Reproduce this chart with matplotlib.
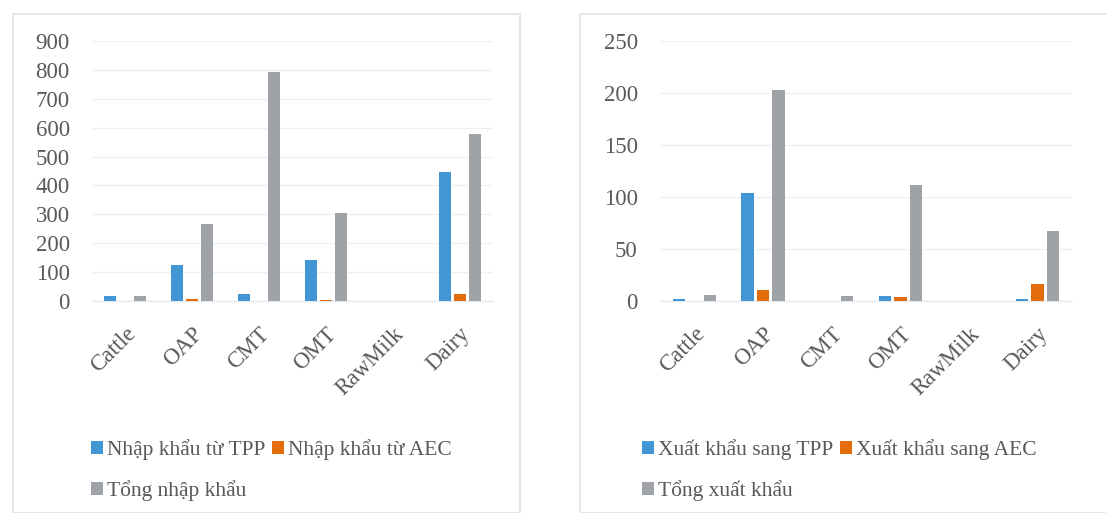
import matplotlib
matplotlib.use('Agg')
import matplotlib.pyplot as plt
from matplotlib.patches import Rectangle
import numpy as np

plt.rcParams['font.family'] = ['Liberation Serif', 'DejaVu Serif']

categories = ['Cattle', 'OAP', 'CMT', 'OMT', 'RawMilk', 'Dairy']

# Left: imports
import_tpp = [17, 125, 25, 142, 0, 446]
import_aec = [0, 8, 0, 4, 0, 25]
import_total = [17, 267, 792, 304, 0, 579]
import_labels = ['Nhập khẩu từ TPP', 'Nhập khẩu từ AEC', 'Tổng nhập khẩu']

# Right: exports
export_tpp = [1.5, 104, 0, 4.8, 0, 2.4]
export_aec = [0, 10.6, 0, 3.9, 0, 16.4]
export_total = [5.8, 203, 4.8, 111.5, 0, 67.4]
export_labels = ['Xuất khẩu sang TPP', 'Xuất khẩu sang AEC', 'Tổng xuất khẩu']

colors = ['#4196d3', '#e46c0a', '#9fa3a7']
text_color = '#595959'

W, H = 1106, 513
fig = plt.figure(figsize=(W / 100, H / 100), dpi=100)

# panel frames
for x0, x1 in [(13, 520), (580, 1120)]:
    fig.patches.append(Rectangle((x0 / W, 0), (x1 - x0) / W, 1 - 14 / H,
                                 transform=fig.transFigure, fill=False,
                                 edgecolor='#dde3ea', linewidth=1.2))


def panel(left, right, series, labels, ymax, step, leg_x):
    ax = fig.add_axes([left / W, 1 - 301 / H, (right - left) / W, (301 - 41) / H])
    x = np.arange(len(categories))
    w = 0.18
    bars = []
    for i, (vals, lab) in enumerate(zip(series, labels)):
        bars.append(ax.bar(x + (i - 1) * 0.225, vals, width=w, color=colors[i],
                           label=lab, zorder=3))
    ax.set_xlim(-0.5, len(categories) - 0.5)
    ax.set_ylim(0, ymax)
    ax.set_yticks(np.arange(0, ymax + 1, step))
    ax.grid(axis='y', color='#eef1f4', linewidth=1, zorder=0)
    for s in ['top', 'right', 'left']:
        ax.spines[s].set_visible(False)
    ax.spines['bottom'].set_color('#e4e8ec')
    ax.tick_params(axis='both', length=0, labelsize=16.5, colors=text_color)
    ax.tick_params(axis='y', pad=16)
    ax.set_xticks(x)
    ax.set_xticklabels(categories, rotation=45, ha='right', va='top',
                       rotation_mode='anchor')
    ax.tick_params(axis='x', pad=16)
    # column-major fill: put total second so it lands on row 2
    order = [0, 2, 1]
    leg = ax.legend([bars[k] for k in order], [labels[k] for k in order],
                    loc='upper left', bbox_to_anchor=(leg_x / W, 1 - 439 / H),
                    bbox_transform=fig.transFigure, ncol=2, frameon=False,
                    fontsize=15.5, handlelength=0.55, handleheight=0.55,
                    handletextpad=0.2, columnspacing=0.3, labelspacing=0.95,
                    borderpad=0, borderaxespad=0)
    for t in leg.get_texts():
        t.set_color(text_color)
    return ax


panel(92, 493, [import_tpp, import_aec, import_total], import_labels, 900, 100, 91)
panel(660, 1072, [export_tpp, export_aec, export_total], export_labels, 250, 50, 642)

fig.savefig('out.png', dpi=100, facecolor='white')
